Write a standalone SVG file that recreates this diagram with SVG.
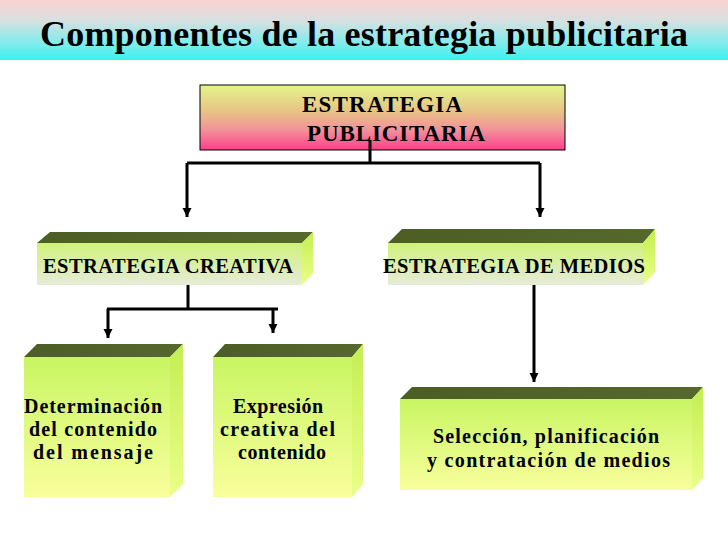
<svg xmlns="http://www.w3.org/2000/svg" width="728" height="546" viewBox="0 0 728 546">
<defs>
<linearGradient id="gTitle" x1="0" y1="0" x2="0" y2="1">
<stop offset="0" stop-color="#fad2d2"/>
<stop offset="0.35" stop-color="#d6e0e0"/>
<stop offset="0.7" stop-color="#86ecec"/>
<stop offset="1" stop-color="#3cf0f0"/>
</linearGradient>
<linearGradient id="gTop" x1="0" y1="0" x2="0" y2="1">
<stop offset="0" stop-color="#e2f58a"/>
<stop offset="0.4" stop-color="#e8c486"/>
<stop offset="0.7" stop-color="#f2909a"/>
<stop offset="1" stop-color="#ff3d8a"/>
</linearGradient>
<linearGradient id="gMid" x1="0" y1="0" x2="0" y2="1">
<stop offset="0" stop-color="#cff27a"/>
<stop offset="1" stop-color="#e6ebd8"/>
</linearGradient>
<linearGradient id="gLow" x1="0" y1="0" x2="0" y2="1">
<stop offset="0" stop-color="#c9f563"/>
<stop offset="1" stop-color="#f8ff9c"/>
</linearGradient>
<linearGradient id="gSide" x1="0" y1="0" x2="0" y2="1">
<stop offset="0" stop-color="#c4ee52"/>
<stop offset="1" stop-color="#eaff88"/>
</linearGradient>
<linearGradient id="gDark" x1="0" y1="0" x2="1" y2="0">
<stop offset="0" stop-color="#4c5e24"/>
<stop offset="1" stop-color="#56682c"/>
</linearGradient>
<marker id="arr" markerUnits="userSpaceOnUse" markerWidth="10" markerHeight="10" refX="9" refY="4.5" orient="auto">
<path d="M0,0 L9,4.5 L0,9 z" fill="#000"/>
</marker>
</defs>
<style>
.t{font-family:"Liberation Serif","Times New Roman",serif;font-weight:bold;fill:#000}
.dark{fill:url(#gDark)}
.side{fill:url(#gSide)}
.mid{fill:url(#gMid)}
.low{fill:url(#gLow)}
.c{fill:none;stroke:#000;stroke-width:3}
.a{marker-end:url(#arr)}
</style>
<rect x="0" y="0" width="728" height="60" fill="url(#gTitle)"/>
<text class="t" x="40" y="46" font-size="36" textLength="648" lengthAdjust="spacing">Componentes de la estrategia publicitaria</text>

<g id="estrategia-publicitaria">
<rect x="200" y="85" width="365" height="65" fill="url(#gTop)" stroke="#000" stroke-width="1"/>
<text class="t" x="302" y="112" font-size="23" textLength="160" lengthAdjust="spacing">ESTRATEGIA</text>
<text class="t" x="307" y="141" font-size="23" textLength="178" lengthAdjust="spacing">PUBLICITARIA</text>
</g>

<g id="estrategia-creativa">
<polygon class="dark" points="37,243 50,232 313,232 302,243"/>
<rect class="mid" x="37" y="243" width="265" height="42"/>
<polygon class="side" points="302,243 313,232 313,273 302,285"/>
<text class="t" x="43" y="273" font-size="20.5" textLength="250" lengthAdjust="spacing">ESTRATEGIA  CREATIVA</text>
</g>

<g id="estrategia-medios">
<polygon class="dark" points="388,243 402,229 655,229 643,243"/>
<rect class="mid" x="388" y="243" width="255" height="42"/>
<polygon class="side" points="643,243 655,229 655,272 643,285"/>
<text class="t" x="383" y="273" font-size="20.5" textLength="262" lengthAdjust="spacing">ESTRATEGIA  DE  MEDIOS</text>
</g>

<g id="determinacion">
<polygon class="dark" points="24,357 37,344 183,344 170,357"/>
<rect class="low" x="24" y="357" width="146" height="140"/>
<polygon class="side" points="170,357 183,344 183,484 170,497"/>
<text class="t" x="24" y="413" font-size="20" textLength="138" lengthAdjust="spacing">Determinación</text>
<text class="t" x="29" y="436" font-size="20" textLength="128" lengthAdjust="spacing">del contenido</text>
<text class="t" x="33" y="459" font-size="20" textLength="120" lengthAdjust="spacing">del mensaje</text>
</g>

<g id="expresion">
<polygon class="dark" points="213,357 225,344 363,344 352,357"/>
<rect class="low" x="213" y="357" width="139" height="140"/>
<polygon class="side" points="352,357 363,344 363,484 352,497"/>
<text class="t" x="233" y="413" font-size="20" textLength="90" lengthAdjust="spacing">Expresión</text>
<text class="t" x="220" y="436" font-size="20" textLength="115" lengthAdjust="spacing">creativa del</text>
<text class="t" x="238" y="459" font-size="20" textLength="88" lengthAdjust="spacing">contenido</text>
</g>

<g id="seleccion">
<polygon class="dark" points="400,399 412,387 703,387 692,399"/>
<rect class="low" x="400" y="399" width="292" height="91"/>
<polygon class="side" points="692,399 703,387 703,478 692,490"/>
<text class="t" x="433" y="443" font-size="20" textLength="226" lengthAdjust="spacing">Selección, planificación</text>
<text class="t" x="427" y="467" font-size="20" textLength="243" lengthAdjust="spacing">y contratación de medios</text>
</g>

<g id="connectors">
<path class="c" d="M370,140 V163"/>
<path class="c" d="M187,163 H540"/>
<path class="c a" d="M187,163 V217"/>
<path class="c a" d="M540,163 V217"/>
<path class="c" d="M188,285 V309"/>
<path class="c" d="M107,309 H278"/>
<path class="c a" d="M108,309 V338"/>
<path class="c a" d="M273,309 V333"/>
<path class="c a" d="M534,285 V382"/>
</g>
</svg>
